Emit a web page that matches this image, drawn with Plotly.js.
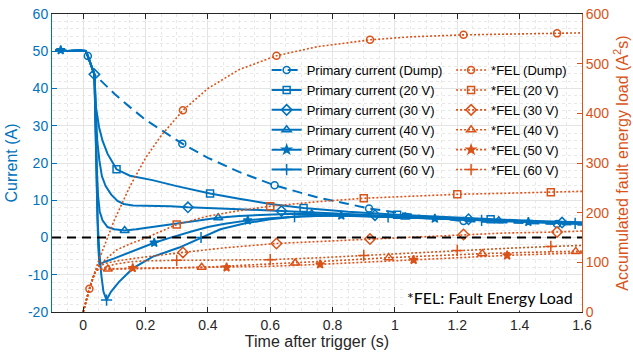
<!DOCTYPE html>
<html>
<head>
<meta charset="utf-8">
<script src="https://cdn.plot.ly/plotly-3.0.1.min.js"></script>
<style>html,body{margin:0;padding:0;background:#fff;}#chart{width:633px;height:355px;}</style>
</head>
<body>
<div id="chart"></div>
<script>
// ---- data ----
// shared pre-trigger part of all primary currents
const tPre = [-0.09, -0.072, -0.05, -0.03, -0.01, 0.008, 0.015, 0.036];
const iPre = [50.2, 50.3, 50.1, 50.2, 50.2, 50.1, 48.7, 43.8];

const tDump = [0.06, 0.1, 0.15, 0.2, 0.255, 0.318, 0.4, 0.5, 0.614, 0.75, 0.85, 0.917, 1.0, 1.1, 1.22, 1.35, 1.52, 1.6];
const iDump = [41.8, 38.6, 35.0, 31.6, 28.6, 25.2, 21.4, 17.6, 14.0, 10.8, 9.0, 7.8, 6.8, 5.6, 4.4, 4.0, 3.6, 3.4];
const mDump = [0.015, 0.318, 0.614, 0.917, 1.22, 1.52];

const t20 = [0.041, 0.051, 0.062, 0.078, 0.107, 0.15, 0.222, 0.3, 0.407, 0.5, 0.6, 0.707, 0.85, 1.007, 1.15, 1.307, 1.45, 1.6];
const i20 = [35, 29.6, 26, 22.5, 18.3, 16.6, 15.4, 13.8, 11.8, 10.4, 9.0, 7.9, 6.9, 6.1, 5.5, 4.9, 4.4, 4.1];
const m20 = [0.107, 0.407, 0.707, 1.007, 1.307];

const t30 = [0.04, 0.045, 0.052, 0.06, 0.072, 0.09, 0.11, 0.13, 0.16, 0.22, 0.28, 0.336, 0.42, 0.5, 0.636, 0.8, 0.936, 1.1, 1.236, 1.4, 1.536, 1.6];
const i30 = [33, 26, 20.7, 16.5, 13.8, 11.5, 9.8, 9.0, 8.6, 8.6, 8.4, 8.1, 7.9, 7.6, 7.1, 6.6, 6.0, 5.4, 4.9, 4.4, 4.0, 3.9];
const m30 = [0.036, 0.336, 0.636, 0.936, 1.236, 1.536];

const t40 = [0.04, 0.044, 0.048, 0.053, 0.062, 0.078, 0.1, 0.133, 0.17, 0.222, 0.303, 0.36, 0.433, 0.5, 0.55, 0.65, 0.733, 0.85, 1.033, 1.2, 1.333, 1.5, 1.6];
const i40 = [30, 18, 11, 7, 4.6, 2.8, 2.2, 1.9, 2.2, 2.8, 3.75, 4.5, 5.3, 5.8, 6.0, 6.3, 6.3, 6.0, 5.5, 4.9, 4.5, 4.0, 3.7];
const m40 = [0.133, 0.433, 0.733, 1.033, 1.333];

const t50 = [0.039, 0.042, 0.045, 0.048, 0.052, 0.07, 0.1, 0.15, 0.2, 0.228, 0.27, 0.3, 0.35, 0.4, 0.45, 0.528, 0.6, 0.7, 0.828, 1.0, 1.128, 1.3, 1.428, 1.6];
const i50 = [30, 18, 6, -2, -7.2, -6.5, -5.6, -4, -2.4, -1.4, -0.3, 0.5, 1.7, 2.8, 3.6, 4.6, 5.2, 5.7, 5.9, 5.5, 5.1, 4.5, 4.2, 3.7];
const m50 = [-0.072, 0.228, 0.528, 0.828, 1.128, 1.428];

const t60 = [0.039, 0.042, 0.046, 0.052, 0.058, 0.065, 0.075, 0.089, 0.115, 0.159, 0.222, 0.308, 0.378, 0.44, 0.52, 0.6, 0.678, 0.8, 0.978, 1.15, 1.278, 1.45, 1.578, 1.6];
const i60 = [30, 18, 5, -4, -10, -14.5, -16.8, -14.6, -11.9, -8.3, -5.2, -2.7, 0, 2.2, 3.8, 4.9, 5.6, 5.9, 5.5, 5.0, 4.6, 4.1, 3.8, 3.7];
const m60 = [0.075, 0.378, 0.678, 0.978, 1.278, 1.578];

// accumulated fault energy load (A^2 s)
const tFDump = [0, 0.02, 0.05, 0.1, 0.15, 0.2, 0.25, 0.32, 0.4, 0.5, 0.62, 0.75, 0.92, 1.05, 1.22, 1.4, 1.52, 1.6];
const fDump  = [0, 47, 104, 185, 253, 310, 355, 406, 450, 488, 516, 534, 548, 554, 558, 560, 561, 562];
const mFDump = [0.02, 0.32, 0.62, 0.92, 1.22, 1.52];

const tF20 = [0, 0.02, 0.036, 0.05, 0.07, 0.107, 0.15, 0.2, 0.3, 0.4, 0.5, 0.6, 0.75, 0.9, 1.05, 1.2, 1.35, 1.5, 1.6];
const f20  = [0, 47, 77, 93, 105, 125, 137, 149, 176, 193, 204, 213, 222, 229, 233, 237, 239, 241, 243];
const mF20 = [0.3, 0.6, 0.9, 1.2, 1.5];

const tF30 = [0, 0.02, 0.036, 0.045, 0.052, 0.072, 0.11, 0.2, 0.32, 0.45, 0.62, 0.75, 0.92, 1.05, 1.22, 1.35, 1.52, 1.6];
const f30  = [0, 47, 77, 88, 92, 98, 103, 111, 120, 129, 138, 142, 147, 151, 156, 159, 161, 163];
const mF30 = [0.32, 0.62, 0.92, 1.22, 1.52];

const tF40 = [0, 0.02, 0.036, 0.04, 0.044, 0.05, 0.079, 0.2, 0.38, 0.5, 0.68, 0.8, 0.98, 1.15, 1.28, 1.45, 1.58, 1.6];
const f40  = [0, 47, 77, 82.6, 85, 86, 86.5, 87.5, 90, 93.5, 98.6, 103, 109.4, 114, 117.5, 120.5, 122, 122.5];
const mF40 = [0.079, 0.38, 0.68, 0.98, 1.28, 1.58];

const tF50 = [0, 0.02, 0.036, 0.04, 0.045, 0.06, 0.1, 0.159, 0.3, 0.46, 0.6, 0.76, 0.9, 1.06, 1.2, 1.36, 1.5, 1.6];
const f50  = [0, 47, 77, 82, 84.5, 86, 87, 88.5, 89, 89.8, 92, 96, 100.5, 105, 109, 114, 117, 119];
const mF50 = [0.159, 0.46, 0.76, 1.06, 1.36];

const tF60 = [0, 0.02, 0.036, 0.04, 0.046, 0.06, 0.075, 0.1, 0.15, 0.2, 0.3, 0.45, 0.6, 0.75, 0.9, 1.05, 1.2, 1.35, 1.5, 1.6];
const f60  = [0, 47, 77, 82, 85, 87, 91, 96, 101, 103, 104, 104.6, 105.4, 109, 114, 119, 124, 128, 132, 134];
const mF60 = [0.3, 0.6, 0.9, 1.2, 1.5];

const currentNames = ['Primary current (Dump)', 'Primary current (20 V)', 'Primary current (30 V)', 'Primary current (40 V)', 'Primary current (50 V)', 'Primary current (60 V)'];
const felNames = ['*FEL (Dump)', '*FEL (20 V)', '*FEL (30 V)', '*FEL (40 V)', '*FEL (50 V)', '*FEL (60 V)'];

const xTickVals = [0, 0.2, 0.4, 0.6, 0.8, 1, 1.2, 1.4, 1.6];
const yTickVals = [-20, -10, 0, 10, 20, 30, 40, 50, 60];
const yTickText = ['-20', '-10', '0', '10', '20', '30', '40', '50', '60'];
const y2TickVals = [0, 100, 200, 300, 400, 500, 600];

// ---- styling ----
const BLUE = '#0072BD';
const ORANGE = '#D95319';
const symbols = ['circle-open', 'square-open', 'diamond-open', 'triangle-up-open', 'star', 'cross-thin-open'];
const msizes = [7, 7, 8, 8, 6.5, 8];

function markIdx(ts, marks) {
  const out = [];
  ts.forEach((t, i) => { if (marks.some(m => Math.abs(m - t) < 1e-9)) out.push(i); });
  return out;
}

const curT = [tDump, t20, t30, t40, t50, t60];
const curI = [iDump, i20, i30, i40, i50, i60];
const curM = [mDump, m20, m30, m40, m50, m60];
const felT = [tFDump, tF20, tF30, tF40, tF50, tF60];
const felV = [fDump, f20, f30, f40, f50, f60];
const felM = [mFDump, mF20, mF30, mF40, mF50, mF60];

const traces = [];
for (let k = 0; k < 6; k++) {
  const x = tPre.concat(curT[k]);
  const y = iPre.concat(curI[k]);
  traces.push({
    type: 'scatter', mode: 'lines+markers', name: currentNames[k], legend: 'legend',
    x: x, y: y, yaxis: 'y',
    line: {color: BLUE, width: 2, dash: k === 0 ? '10px,6px' : 'solid'},
    marker: {symbol: symbols[k], size: msizes[k], color: BLUE, line: {color: BLUE, width: 1.5}},
    selectedpoints: markIdx(x, curM[k]),
    selected: {marker: {opacity: 1}},
    unselected: {marker: {opacity: 0}},
    hoverinfo: 'skip'
  });
}
for (let k = 0; k < 6; k++) {
  const x = felT[k];
  traces.push({
    type: 'scatter', mode: 'lines+markers', name: felNames[k], legend: 'legend2',
    x: x, y: felV[k], yaxis: 'y2',
    line: {color: ORANGE, width: 1.6, dash: '2px,2px'},
    marker: {symbol: symbols[k], size: msizes[k], color: ORANGE, line: {color: ORANGE, width: 1.5}},
    selectedpoints: markIdx(x, felM[k]),
    selected: {marker: {opacity: 1}},
    unselected: {marker: {opacity: 0}},
    hoverinfo: 'skip'
  });
}

const FONT = 'Liberation Sans, Arial, sans-serif';
const layout = {
  width: 633, height: 355,
  margin: {l: 52, r: 51, t: 14, b: 43},
  paper_bgcolor: '#fff', plot_bgcolor: '#fff',
  font: {family: FONT, size: 14, color: '#262626'},
  showlegend: true,
  xaxis: {
    range: [-0.1, 1.6], tickvals: xTickVals, ticks: 'inside', ticklen: 5, tickwidth: 1,
    tickcolor: '#262626', showline: true, linecolor: '#262626', linewidth: 1, mirror: 'ticks',
    showgrid: true, gridcolor: '#e4e4e4', zeroline: false,
    minor: {tick0: 0, dtick: 0.05, showgrid: true, gridcolor: '#e8e8e8', griddash: 'dot', ticklen: 0},
    tickfont: {size: 14, color: '#262626'},
    title: {text: 'Time after trigger (s)', font: {size: 16, color: '#262626'}, standoff: 4}
  },
  yaxis: {
    range: [-20, 60], tickvals: yTickVals, ticktext: yTickText, ticks: 'inside', ticklen: 5,
    tickcolor: BLUE, showline: true, linecolor: BLUE, linewidth: 1, mirror: false,
    showgrid: true, gridcolor: '#e4e4e4', zeroline: false,
    minor: {tick0: 0, dtick: 2, showgrid: true, gridcolor: '#e8e8e8', griddash: 'dot', ticklen: 0},
    tickfont: {size: 14, color: BLUE},
    title: {text: 'Current (A)', font: {size: 16, color: BLUE}, standoff: 6}
  },
  yaxis2: {
    overlaying: 'y', side: 'right', range: [0, 600], tickvals: y2TickVals, ticks: 'inside', ticklen: 5,
    tickcolor: ORANGE, showline: true, linecolor: ORANGE, linewidth: 1,
    showgrid: false, zeroline: false,
    tickfont: {size: 14, color: ORANGE},
    title: {text: 'Accumulated fault energy load (A<sup>2</sup>s)', font: {size: 16, color: ORANGE}, standoff: 8}
  },
  legend: {
    x: 0.405, y: 0.862, xanchor: 'left', yanchor: 'top', bgcolor: 'rgba(0,0,0,0)', borderwidth: 0,
    font: {family: FONT, size: 13, color: '#000'}, tracegroupgap: 0, itemwidth: 30
  },
  legend2: {
    x: 0.753, y: 0.862, xanchor: 'left', yanchor: 'top', bgcolor: 'rgba(0,0,0,0)', borderwidth: 0,
    font: {family: FONT, size: 13, color: '#000'}, tracegroupgap: 0, itemwidth: 30
  },
  shapes: [{
    type: 'line', xref: 'paper', x0: 0, x1: 1, yref: 'y', y0: 0, y1: 0,
    line: {color: '#000', width: 2.2, dash: '9px,6px'}, layer: 'above'
  }],
  annotations: [{
    text: '*FEL: Fault Energy Load', xref: 'paper', yref: 'paper', x: 0.99, y: 0.004,
    xanchor: 'right', yanchor: 'bottom', showarrow: false, bgcolor: '#fff', borderpad: 3,
    font: {family: 'Lato, Carlito, sans-serif', size: 16, color: '#000'}
  }]
};

Plotly.newPlot('chart', traces, layout, {staticPlot: true, displayModeBar: false});
</script>
</body>
</html>
